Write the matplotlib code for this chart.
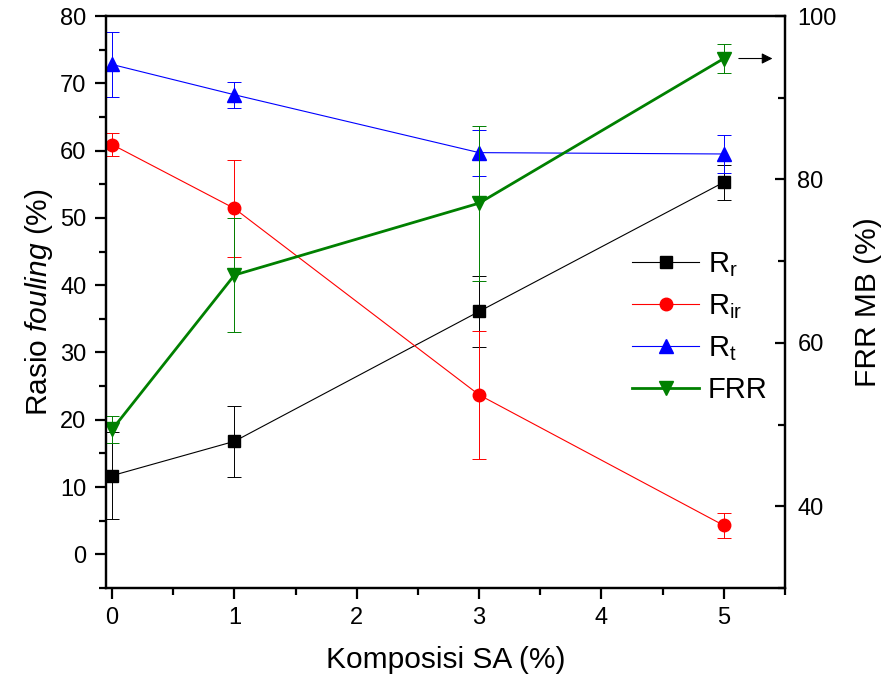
import numpy as np
import matplotlib.pyplot as plt
from matplotlib.ticker import MultipleLocator
from matplotlib.lines import Line2D

plt.rcParams['font.family'] = ['Liberation Sans', 'DejaVu Sans']
plt.rcParams['mathtext.fontset'] = 'custom'
plt.rcParams['mathtext.rm'] = 'Liberation Sans'
plt.rcParams['mathtext.it'] = 'Liberation Sans:italic'

# data
komposisi = [0, 1, 3, 5]
rr = [11.7, 16.8, 36.1, 55.3]
rr_err = [6.5, 5.3, 5.3, 2.6]
rir = [60.9, 51.4, 23.7, 4.3]
rir_err = [1.7, 7.2, 9.5, 1.9]
rt = [72.8, 68.3, 59.7, 59.5]
rt_err = [4.9, 1.9, 3.4, 2.8]
frr = [49.4, 68.3, 77.1, 94.8]
frr_err = [1.7, 7.0, 9.5, 1.8]

fig = plt.figure(figsize=(8.87, 6.82), dpi=100)
ax = fig.add_axes([0.1195, 0.1378, 0.7655, 0.8387])
ax2 = ax.twinx()

ax.errorbar(komposisi, rr, yerr=rr_err, color='black', marker='s', ms=8,
            lw=0.8, elinewidth=0.7, capsize=5, capthick=0.7)
ax.errorbar(komposisi, rir, yerr=rir_err, color='red', marker='o', ms=9,
            lw=0.8, elinewidth=0.7, capsize=5, capthick=0.7)
ax.errorbar(komposisi, rt, yerr=rt_err, color='blue', marker='^', ms=10,
            lw=0.8, elinewidth=0.7, capsize=5, capthick=0.7)
ax2.errorbar(komposisi, frr, yerr=frr_err, color='green', marker='v', ms=10,
             lw=2, elinewidth=0.7, capsize=5, capthick=0.7)

ax.set_xlim(-0.05, 5.5)
ax.set_ylim(-5, 80)
ax2.set_ylim(30, 100)

ax.xaxis.set_major_locator(MultipleLocator(1))
ax.xaxis.set_minor_locator(MultipleLocator(0.5))
ax.yaxis.set_major_locator(MultipleLocator(10))
ax.yaxis.set_minor_locator(MultipleLocator(5))
ax2.set_yticks([40, 60, 80, 100])
ax2.yaxis.set_minor_locator(MultipleLocator(10))

for a in (ax, ax2):
    for s in a.spines.values():
        s.set_linewidth(1.6)
ax.tick_params(which='major', length=8, width=1.6, labelsize=17, direction='out', pad=6)
ax.tick_params(which='minor', length=5, width=1.6, direction='out')
ax.tick_params(axis='y', which='both', right=False)
ax.tick_params(axis='x', which='both', top=False)
ax2.tick_params(which='major', length=7, width=1.6, labelsize=17, direction='in', pad=9)
ax2.tick_params(which='minor', length=5, width=1.6, direction='in')

ax.set_xlabel('Komposisi SA (%)', fontsize=21.5, labelpad=12)
ax.set_ylabel('Rasio $\\mathit{fouling}$ (%)', fontsize=21.5, labelpad=4)
ax2.set_ylabel('FRR MB (%)', fontsize=21.5, labelpad=12)

ax2.annotate('', xy=(5.42, frr[3]), xytext=(5.1, frr[3]),
             arrowprops=dict(arrowstyle='-|>', color='black', lw=0.8, mutation_scale=16))

handles = [
    Line2D([], [], color='black', marker='s', ms=8, lw=0.8),
    Line2D([], [], color='red', marker='o', ms=9, lw=0.8),
    Line2D([], [], color='blue', marker='^', ms=10, lw=0.8),
    Line2D([], [], color='green', marker='v', ms=10, lw=2),
]
labels = ['R$_{\\mathrm{r}}$', 'R$_{\\mathrm{ir}}$', 'R$_{\\mathrm{t}}$', 'FRR']
ax2.legend(handles, labels, loc='upper left', bbox_to_anchor=(0.775, 0.591),
           frameon=False, fontsize=21, handlelength=2.3, labelspacing=0.45,
           handletextpad=0.3, borderpad=0, borderaxespad=0)

fig.savefig('out.png', dpi=100)
